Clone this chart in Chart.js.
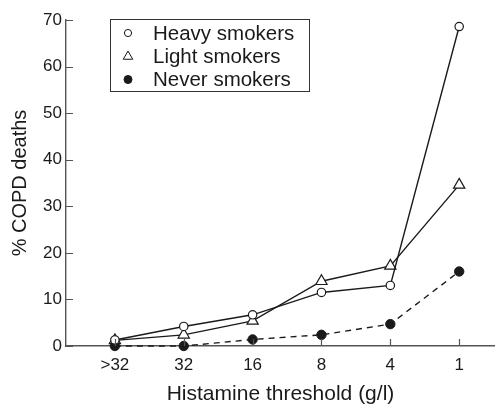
<!DOCTYPE html>
<html>
<head>
<meta charset="utf-8">
<script src="https://cdn.jsdelivr.net/npm/chart.js@4/dist/chart.umd.min.js"></script>
<style>
  html, body { margin: 0; padding: 0; background: #fff; overflow: hidden; }
  canvas { display: block; }
</style>
</head>
<body>
<canvas id="copd" width="495" height="405"></canvas>
<script>
const categories = [">32", "32", "16", "8", "4", "1"];
const heavySmokers = [1.3, 4.2, 6.7, 11.5, 13.0, 68.6];
const lightSmokers = [1.2, 2.4, 5.4, 13.9, 17.2, 34.6];
const neverSmokers = [0, 0, 1.4, 2.4, 4.7, 16.0];
const yTicks = [0, 10, 20, 30, 40, 50, 60, 70];

const ink = "#1a1a1a";
const axisGrey = "#555";
const sans = "'Liberation Sans', Arial, sans-serif";

function toPoints(vals) {
  return vals.map((v, i) => ({ x: i, y: v }));
}

// tick marks inside the plot, like the printed figure
const innerTicks = {
  id: "innerTicks",
  afterDraw(chart) {
    const ctx = chart.ctx;
    const x = chart.scales.x, y = chart.scales.y;
    ctx.save();
    ctx.strokeStyle = axisGrey;
    ctx.lineWidth = 1.2;
    ctx.beginPath();
    yTicks.forEach(t => {
      const py = Math.round(y.getPixelForValue(t)) + 0.5;
      ctx.moveTo(x.left, py);
      ctx.lineTo(x.left + 7, py);
    });
    categories.forEach((c, i) => {
      const px = Math.round(x.getPixelForValue(i)) + 0.5;
      ctx.moveTo(px, y.bottom);
      ctx.lineTo(px, y.bottom - 7);
    });
    ctx.stroke();
    ctx.restore();
  }
};

// boxed legend in the upper left
const boxLegend = {
  id: "boxLegend",
  afterDraw(chart) {
    const ctx = chart.ctx;
    const box = { l: 110.5, t: 19.5, w: 199, h: 72 };
    ctx.save();
    ctx.fillStyle = "#fff";
    ctx.fillRect(box.l, box.t, box.w, box.h);
    ctx.strokeStyle = "#333";
    ctx.lineWidth = 1;
    ctx.strokeRect(box.l, box.t, box.w, box.h);
    ctx.font = "20.5px " + sans;
    ctx.textBaseline = "middle";
    const rows = [33, 56.5, 79.5];
    const sizes = [3.6, 5.5, 4];
    chart.data.datasets.forEach((ds, i) => {
      ctx.strokeStyle = ink;
      ctx.fillStyle = ds.pointBackgroundColor;
      ctx.lineWidth = 1;
      Chart.helpers.drawPoint(ctx, { pointStyle: ds.pointStyle, radius: sizes[i], rotation: 0, borderWidth: 1 }, 128, rows[i]);
      ctx.fillStyle = ink;
      ctx.fillText(ds.label, 153, rows[i] + 1);
    });
    ctx.restore();
  }
};

new Chart("copd", {
  type: "line",
  data: {
    datasets: [
      {
        label: "Heavy smokers",
        data: toPoints(heavySmokers),
        borderColor: ink,
        borderWidth: 1.4,
        pointStyle: "circle",
        pointRadius: 4.2,
        pointBorderWidth: 1.2,
        pointBorderColor: ink,
        pointBackgroundColor: "#fff"
      },
      {
        label: "Light smokers",
        data: toPoints(lightSmokers),
        borderColor: ink,
        borderWidth: 1.4,
        pointStyle: "triangle",
        pointRadius: 6.5,
        pointBorderWidth: 1.2,
        pointBorderColor: ink,
        pointBackgroundColor: "#fff"
      },
      {
        label: "Never smokers",
        data: toPoints(neverSmokers),
        borderColor: ink,
        borderWidth: 1.4,
        borderDash: [6, 5],
        pointStyle: "circle",
        pointRadius: 4.7,
        pointBorderWidth: 1,
        pointBorderColor: ink,
        pointBackgroundColor: ink
      }
    ]
  },
  options: {
    responsive: false,
    animation: false,
    clip: false,
    layout: { autoPadding: false, padding: { top: 20, right: 0, left: 0, bottom: 0 } },
    plugins: {
      legend: { display: false },
      tooltip: { enabled: false }
    },
    scales: {
      x: {
        type: "linear",
        min: -0.71,
        max: 5.52,
        afterBuildTicks: s => { s.ticks = categories.map((c, i) => ({ value: i })); },
        afterFit: s => { s.height = 59; s.paddingLeft = 0; s.paddingRight = 0; },
        grid: { display: false, drawTicks: false },
        border: { display: true, color: axisGrey, width: 1.4 },
        ticks: {
          padding: 9,
          color: ink,
          font: { family: sans, size: 17 },
          callback: v => categories[v]
        },
        title: {
          display: true,
          text: "Histamine threshold (g/l)",
          color: ink,
          font: { family: sans, size: 21, lineHeight: 1 },
          padding: { top: 6, bottom: 0 }
        }
      },
      y: {
        min: 0,
        max: 70,
        afterBuildTicks: s => { s.ticks = yTicks.map(v => ({ value: v })); },
        afterFit: s => { s.width = 66; },
        grid: { display: false, drawTicks: false },
        border: { display: true, color: axisGrey, width: 1.4 },
        ticks: {
          padding: 4,
          color: ink,
          font: { family: sans, size: 17 }
        },
        title: {
          display: true,
          text: "% COPD deaths",
          color: ink,
          font: { family: sans, size: 20 },
          padding: { top: 8, bottom: 4 }
        }
      }
    }
  },
  plugins: [innerTicks, boxLegend]
});
</script>
</body>
</html>
